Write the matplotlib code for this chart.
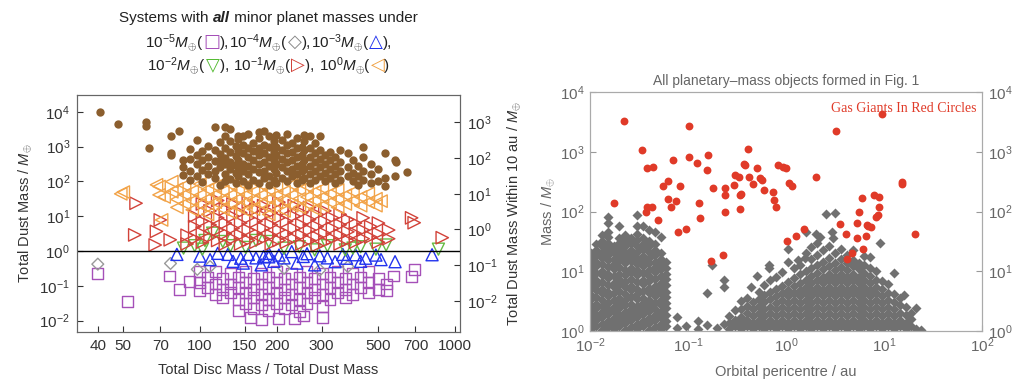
import matplotlib
matplotlib.use('Agg')
import matplotlib.pyplot as plt
from matplotlib.ticker import NullLocator, FixedLocator, FixedFormatter
import numpy as np

plt.rcParams['font.family'] = ['Liberation Sans', 'DejaVu Sans']
plt.rcParams['mathtext.fontset'] = 'custom'
plt.rcParams['mathtext.rm'] = 'Liberation Sans'
plt.rcParams['mathtext.it'] = 'Liberation Sans:italic'
plt.rcParams['mathtext.bf'] = 'Liberation Sans:bold'

# ---- data as log10 values: (log x, [log y, ...]) ----
# left panel: x = total disc mass / total dust mass, y = total dust mass
brown_cols = [
    (1.61, [3.99]), (1.68, [3.66]), (1.79, [3.70, 3.59]), (1.80, [2.95]),
    (1.885, [3.31, 2.81, 2.76]), (1.92, [3.45]), (1.935, [2.61, 2.42, 2.18]),
    (1.96, [2.92, 2.63, 2.31, 2.04]), (1.99, [3.19, 2.77, 2.49, 2.16]),
    (2.01, [2.86, 2.6, 2.33, 1.98]), (2.03, [3.02, 2.71, 2.44, 2.2]),
    (2.06, [3.55, 2.91, 2.57, 2.29, 2.09]), (2.08, [3.12, 2.79, 2.62, 2.4, 1.9]),
    (2.10, [3.57, 3.29, 2.95, 2.68, 2.49, 2.21, 2.0]), (2.12, [3.5, 3.16, 2.85, 2.55, 2.34, 2.06]),
    (2.14, [3.01, 2.74, 2.46, 2.25, 1.95]), (2.15, [3.31, 3.21, 2.9, 2.61, 2.4, 2.15]),
    (2.17, [3.31, 3.05, 2.8, 2.51, 2.3, 2.0]), (2.19, [3.36, 2.95, 2.7, 2.45, 2.21, 1.9]),
    (2.21, [3.1, 2.86, 2.6, 2.35, 2.05]), (2.23, [3.41, 3.25, 2.95, 2.75, 2.5, 2.26, 1.95]),
    (2.25, [3.44, 3.05, 2.81, 2.55, 2.3, 2.1]), (2.27, [3.3, 3.0, 2.7, 2.45, 2.15, 1.9]),
    (2.29, [3.15, 2.85, 2.6, 2.36, 2.05]), (2.30, [3.34, 3.0, 2.75, 2.5, 2.25, 1.95]),
    (2.32, [3.2, 2.9, 2.65, 2.4, 2.1]), (2.34, [3.35, 3.05, 2.8, 2.55, 2.3, 2.0]),
    (2.36, [3.1, 2.85, 2.6, 2.35, 2.15]), (2.38, [3.25, 2.95, 2.7, 2.45, 2.2, 1.95]),
    (2.40, [3.0, 2.75, 2.5, 2.3, 2.05]), (2.41, [3.34, 3.15, 2.9, 2.6, 2.35, 2.1]),
    (2.43, [3.29, 2.95, 2.7, 2.45, 2.2, 1.95]), (2.45, [3.1, 2.8, 2.55, 2.3, 2.05]),
    (2.47, [3.29, 2.9, 2.65, 2.4, 2.15]), (2.49, [2.75, 2.5, 2.25, 2.0]),
    (2.51, [2.85, 2.6, 2.35, 2.1]), (2.53, [2.7, 2.45, 2.2, 1.95]),
    (2.55, [2.9, 2.55, 2.3, 2.05]), (2.58, [2.8, 2.4, 2.15]), (2.60, [2.6, 2.25, 2.0]),
    (2.62, [2.45, 2.15, 1.9]), (2.64, [3.0, 2.7, 2.3, 2.05]), (2.67, [2.5, 2.2, 1.95]),
    (2.70, [2.35, 2.0]), (2.725, [2.8, 2.1, 1.87]), (2.765, [2.6, 2.15]), (2.77, [2.55]),
    (2.81, [2.27]),
]
orange_cols = [
    (1.69, [1.64]), (1.70, [1.69]), (1.83, [1.9]), (1.84, [1.61, 1.85]), (1.85, [0.89]),
    (1.86, [1.55]), (1.89, [1.99, 1.7]), (1.91, [1.78, 1.48, 1.25]), (1.94, [1.88, 1.62, 1.36]),
    (1.97, [1.72, 1.44, 1.18]), (2.00, [1.92, 1.6, 1.33]), (2.03, [1.77, 1.5, 1.24, 1.05]),
    (2.06, [1.86, 1.62, 1.4]), (2.09, [1.71, 1.46, 1.2]), (2.12, [1.9, 1.6, 1.35, 1.1]),
    (2.15, [1.76, 1.5, 1.26]), (2.18, [1.87, 1.61, 1.4, 1.15]), (2.21, [1.7, 1.45, 1.2]),
    (2.24, [1.9, 1.6, 1.35]), (2.27, [1.76, 1.5, 1.25, 1.05]), (2.30, [1.86, 1.6, 1.4]),
    (2.33, [1.7, 1.45, 1.15]), (2.36, [1.9, 1.6, 1.3]), (2.39, [1.75, 1.5, 1.25]),
    (2.42, [1.85, 1.55, 1.35]), (2.45, [1.7, 1.45, 1.2]), (2.48, [1.8, 1.55, 1.3]),
    (2.51, [1.65, 1.4]), (2.54, [1.75, 1.5, 1.25]), (2.57, [1.6, 1.35]), (2.60, [1.7, 1.45]),
    (2.63, [1.55, 1.3]), (2.66, [1.65, 1.4]), (2.69, [1.5, 1.3]), (2.71, [1.43]),
]
red_cols = [
    (1.745, [0.46]), (1.75, [1.37]), (1.825, [0.17]), (1.83, [0.56]), (1.845, [0.89]),
    (1.884, [0.32]), (1.95, [0.45, 0.2]), (1.98, [1.0, 0.7, 0.35]), (2.01, [1.35, 0.85, 0.5, 0.25]),
    (2.04, [1.15, 0.75, 0.4]), (2.07, [1.45, 0.95, 0.6, 0.3]), (2.10, [1.2, 0.8, 0.5, 0.2]),
    (2.13, [1.35, 1.0, 0.65, 0.35]), (2.16, [1.1, 0.8, 0.45, 0.2]), (2.19, [1.4, 0.95, 0.6, 0.3]),
    (2.22, [1.2, 0.85, 0.5, 0.25]), (2.25, [1.3, 1.0, 0.65, 0.35]), (2.28, [1.1, 0.75, 0.45, 0.2]),
    (2.31, [1.4, 0.95, 0.6, 0.3]), (2.34, [1.2, 0.85, 0.5, 0.25]), (2.37, [1.3, 1.0, 0.65, 0.35]),
    (2.40, [1.1, 0.75, 0.45, 0.2]), (2.43, [1.25, 0.9, 0.6, 0.3]), (2.46, [1.05, 0.7, 0.4, 0.15]),
    (2.49, [1.15, 0.85, 0.5, 0.25]), (2.52, [0.95, 0.65, 0.35]), (2.55, [1.05, 0.75, 0.45, 0.2]),
    (2.58, [0.9, 0.55, 0.3]), (2.61, [0.8, 0.5, 0.25]), (2.64, [0.95, 0.6, 0.35]),
    (2.67, [0.7, 0.4]), (2.70, [0.8, 0.5, 0.25]), (2.74, [0.6, 0.35]),
    (2.83, [0.95]), (2.84, [0.81]), (2.95, [0.38]),
]
green_cols = [
    (1.936, [0.08]), (1.98, [0.15]), (2.01, [0.05]), (2.02, [0.3]), (2.05, [0.51]),
    (2.09, [0.27]), (2.12, [0.15]), (2.18, [0.1]), (2.22, [0.3]), (2.27, [0.27]),
    (2.33, [0.08]), (2.39, [0.12]), (2.45, [0.03]), (2.50, [0.15]), (2.57, [0.03]),
    (2.60, [0.08]), (2.63, [0.12]), (2.69, [0.05]), (2.73, [0.17]), (2.935, [0.05]),
]
blue_cols = [
    (1.91, [-0.10]), (2.00, [-0.15]), (2.04, [-0.25]), (2.07, [-0.07]), (2.11, [-0.1]),
    (2.13, [-0.3]), (2.16, [-0.21]), (2.17, [-0.35]), (2.19, [-0.1]), (2.22, [-0.2]),
    (2.24, [-0.4]), (2.25, [-0.16]), (2.27, [-0.07, -0.17]), (2.29, [-0.3]), (2.31, [-0.12]),
    (2.33, [-0.2]), (2.36, [-0.02]), (2.38, [-0.35]), (2.405, [-0.16]), (2.42, [-0.08]),
    (2.45, [-0.4]), (2.47, [-0.14]), (2.50, [-0.2]), (2.53, [-0.31]), (2.56, [-0.1]),
    (2.575, [-0.21]), (2.61, [-0.11]), (2.63, [-0.3]), (2.65, [-0.21]), (2.69, [-0.12]),
    (2.71, [-0.25]), (2.765, [-0.31]), (2.91, [-0.11]),
]
grey_cols = [
    (1.60, [-0.38]), (1.885, [-0.36]), (1.99, [-0.53]), (2.04, [-0.45]),
    (2.33, [-0.5]), (2.47, [-0.55]), (2.58, [-0.45]),
]
purple_cols = [
    (1.60, [-0.64]), (1.715, [-1.46]), (1.88, [-0.72]), (1.92, [-1.1]), (1.96, [-0.88]),
    (2.00, [-0.6, -0.9, -1.15]), (2.03, [-0.75, -1.05]), (2.06, [-0.6, -0.95, -1.25]),
    (2.09, [-0.8, -1.1, -1.35]), (2.12, [-0.65, -0.95, -1.2]), (2.15, [-0.75, -1.05, -1.4, -1.7]),
    (2.18, [-0.6, -0.9, -1.2, -1.5]), (2.20, [-1.92]), (2.21, [-0.8, -1.1, -1.35, -1.65]),
    (2.24, [-0.65, -0.95, -1.25, -1.55, -1.98]), (2.27, [-0.75, -1.05, -1.4, -1.7]),
    (2.30, [-0.6, -0.9, -1.2, -1.5]), (2.31, [-1.93]), (2.33, [-0.8, -1.1, -1.35, -1.65]),
    (2.36, [-0.65, -0.95, -1.25, -1.55]), (2.37, [-1.93]), (2.39, [-0.75, -1.05, -1.4, -1.75]),
    (2.405, [-1.87]), (2.42, [-0.6, -0.9, -1.2, -1.5]), (2.45, [-0.8, -1.1, -1.35]),
    (2.48, [-0.65, -0.95, -1.25, -1.6, -1.92]), (2.51, [-0.75, -1.05, -1.4]),
    (2.54, [-0.6, -0.9, -1.2]), (2.57, [-0.8, -1.1, -1.35]), (2.60, [-0.65, -0.95, -1.25]),
    (2.63, [-0.75, -1.05]), (2.66, [-0.6, -0.9, -1.2]), (2.70, [-0.8, -1.1]),
    (2.73, [-0.95, -1.15]), (2.76, [-0.72]), (2.83, [-0.74]), (2.84, [-0.53]),
]

# right panel: x = orbital pericentre / au, y = mass / Mearth
giant_pts = [
    (-1.656, 3.51), (-0.993, 3.43), (0.51, 3.35), (0.98, 3.63), (-1.47, 3.03), (-0.39, 3.04),
    (-1.42, 2.72), (-1.36, 2.74), (-1.15, 2.86), (-0.99, 2.92), (-0.91, 2.82), (-0.80, 2.95),
    (-0.81, 2.69), (-1.26, 2.43), (-1.20, 2.51), (-1.08, 2.42), (-1.20, 2.21), (-1.12, 2.18),
    (-1.17, 2.08), (-1.42, 2.08), (-1.37, 2.08), (-1.43, 2.0), (-1.76, 2.15), (-1.31, 1.85),
    (-0.89, 2.14), (-0.88, 1.89), (-0.74, 2.39), (-0.62, 2.39), (-0.62, 2.28), (-0.53, 2.44),
    (-0.62, 2.0), (-0.47, 2.28), (-0.47, 2.04), (-0.52, 2.61), (-0.48, 2.58), (-0.42, 2.78),
    (-0.38, 2.58), (-0.34, 2.46), (-0.30, 2.72), (-0.27, 2.56), (-0.22, 2.36), (-0.13, 2.33),
    (-0.03, 2.75), (0.0, 2.72), (0.03, 2.47), (0.06, 2.43), (-0.12, 2.19), (-0.10, 2.08),
    (-0.08, 2.78), (-0.46, 2.29), (-0.25, 2.53), (-0.43, 2.79), (0.31, 2.57),
    (0.78, 2.22), (0.74, 2.0), (0.895, 2.28), (0.95, 2.08), (0.94, 1.94), (0.72, 1.80),
    (0.84, 1.76), (0.87, 1.74), (0.92, 1.91), (1.18, 2.50), (1.18, 2.46), (0.95, 2.25),
    (-1.10, 1.65), (-1.02, 1.71), (-0.77, 1.17), (-0.64, 1.27), (0.01, 1.51), (0.105, 1.59),
    (0.18, 1.70), (0.55, 1.79), (0.61, 1.62), (0.72, 1.55), (0.79, 1.37), (0.67, 1.30),
    (0.62, 1.20), (0.83, 1.77), (0.82, 1.59), (1.32, 1.62),
]
rocky_cols = [
    (-1.99, [0.03, 0.13, 0.22, 0.33, 0.42, 0.53, 0.61, 0.72, 0.83, 0.91, 1.02, 1.13, 1.22, 1.31]),
    (-1.94, [0.08, 0.18, 0.27, 0.38, 0.46, 0.57, 0.68, 0.77, 0.86, 0.97, 1.08, 1.16, 1.27, 1.36, 1.45]),
    (-1.88, [0.02, 0.12, 0.23, 0.31, 0.42, 0.52, 0.63, 0.71, 0.82, 0.93, 1.01, 1.12, 1.23, 1.32, 1.43, 1.51, 1.6]),
    (-1.82, [0.07, 0.17, 0.28, 0.36, 0.47, 0.58, 0.66, 0.77, 0.88, 0.96, 1.07, 1.18, 1.27, 1.37, 1.48, 1.57, 1.66, 1.8, 1.91]),
    (-1.76, [0.03, 0.12, 0.22, 0.33, 0.41, 0.52, 0.63, 0.73, 0.81, 0.92, 1.03, 1.12, 1.21, 1.33, 1.42]),
    (-1.70, [0.08, 0.17, 0.27, 0.38, 0.47, 0.56, 0.67, 0.78, 0.87, 0.96, 1.07, 1.18, 1.27, 1.38, 1.47, 1.56, 1.75]),
    (-1.64, [0.02, 0.13, 0.22, 0.32, 0.43, 0.52, 0.62, 0.73, 0.82, 0.93, 1.02, 1.13, 1.22, 1.33, 1.42, 1.52, 1.61]),
    (-1.58, [0.07, 0.18, 0.27, 0.37, 0.46, 0.57, 0.68, 0.76, 0.87, 0.98, 1.06, 1.17, 1.28, 1.36, 1.47, 1.56]),
    (-1.52, [0.03, 0.12, 0.23, 0.32, 0.42, 0.53, 0.62, 0.71, 0.82, 0.93, 1.02, 1.12, 1.23, 1.32, 1.43, 1.52, 1.62, 1.75, 1.94]),
    (-1.46, [0.08, 0.17, 0.28, 0.37, 0.47, 0.56, 0.67, 0.78, 0.86, 0.97, 1.08, 1.17, 1.26, 1.37, 1.46, 1.55, 1.75]),
    (-1.40, [0.02, 0.13, 0.22, 0.33, 0.42, 0.52, 0.63, 0.72, 0.83, 0.92, 1.02, 1.13, 1.22, 1.33, 1.42, 1.51, 1.69]),
    (-1.34, [0.07, 0.18, 0.27, 0.36, 0.47, 0.58, 0.67, 0.76, 0.87, 0.98, 1.07, 1.16, 1.27, 1.36, 1.45, 1.65]),
    (-1.28, [0.03, 0.12, 0.23, 0.32, 0.43, 0.52, 0.63, 0.72, 0.81, 0.92, 1.03, 1.12, 1.21, 1.3, 1.58]),
    (-1.22, [0.08, 0.17, 0.27, 0.38, 0.47, 0.57, 0.66, 0.77, 0.87, 0.96, 1.06, 1.16]),
    (-1.11, [0.23, 0.05]), (-1.02, [0.08]), (-0.90, [0.17, 0.03]), (-0.81, [0.63, 0.1]),
    (-0.76, [1.10]), (-0.70, [0.05]), (-0.63, [0.85, 0.74, 0.12]),
    (-0.58, [0.03, 0.14, 0.25]), (-0.52, [0.08, 0.19, 0.35]),
    (-0.46, [0.03, 0.13, 0.24, 0.36, 0.5]), (-0.40, [0.08, 0.19, 0.3, 0.42, 0.55]),
    (-0.36, [0.73]), (-0.34, [0.03, 0.14, 0.25, 0.37, 0.48]), (-0.30, [0.92]),
    (-0.28, [0.08, 0.19, 0.3, 0.42, 0.53, 0.66]), (-0.22, [0.03, 0.14, 0.25, 0.36, 0.48, 0.6, 0.77]),
    (-0.17, [1.10, 1.05]), (-0.16, [0.08, 0.19, 0.3, 0.41, 0.53, 0.65, 0.85]),
    (-0.10, [0.03, 0.14, 0.25, 0.36, 0.47, 0.59, 0.7, 0.9]),
    (-0.04, [0.08, 0.19, 0.3, 0.41, 0.52, 0.64, 0.76, 0.98]),
    (0.02, [0.03, 0.14, 0.25, 0.36, 0.47, 0.58, 0.69, 0.82, 1.16, 1.37]),
    (0.08, [0.08, 0.19, 0.3, 0.41, 0.52, 0.63, 0.75, 0.88, 1.05]), (0.12, [1.19]),
    (0.14, [0.03, 0.14, 0.25, 0.36, 0.47, 0.58, 0.69, 0.81, 0.95, 1.1]), (0.19, [1.22]),
    (0.20, [0.08, 0.19, 0.3, 0.41, 0.52, 0.63, 0.74, 0.86, 1.0, 1.3, 1.66]),
    (0.26, [0.03, 0.14, 0.25, 0.36, 0.47, 0.58, 0.69, 0.8, 0.92, 1.06, 1.2, 1.4]), (0.31, [1.62]),
    (0.32, [0.08, 0.19, 0.3, 0.41, 0.52, 0.63, 0.74, 0.85, 0.97, 1.1, 1.28, 1.47]), (0.35, [1.58]),
    (0.38, [0.03, 0.14, 0.25, 0.36, 0.47, 0.58, 0.69, 0.8, 0.91, 1.03, 1.16, 1.35]), (0.41, [1.96]),
    (0.44, [0.08, 0.19, 0.3, 0.41, 0.52, 0.63, 0.74, 0.85, 0.96, 1.08, 1.22, 1.42]),
    (0.47, [1.66]), (0.48, [1.55]),
    (0.50, [0.03, 0.14, 0.25, 0.36, 0.47, 0.58, 0.69, 0.8, 0.91, 1.02, 1.14, 1.3, 1.98]),
    (0.56, [0.08, 0.19, 0.3, 0.41, 0.52, 0.63, 0.74, 0.85, 0.96, 1.07, 1.2, 1.38]),
    (0.62, [0.03, 0.14, 0.25, 0.36, 0.47, 0.58, 0.69, 0.8, 0.91, 1.02, 1.13, 1.28]),
    (0.68, [0.08, 0.19, 0.3, 0.41, 0.52, 0.63, 0.74, 0.85, 0.96, 1.08, 1.18, 1.36]),
    (0.74, [0.03, 0.14, 0.25, 0.36, 0.47, 0.58, 0.69, 0.8, 0.91, 1.03, 1.14]),
    (0.80, [0.08, 0.19, 0.3, 0.41, 0.52, 0.63, 0.74, 0.85, 0.97, 1.1, 1.25]),
    (0.86, [0.03, 0.14, 0.25, 0.36, 0.47, 0.58, 0.69, 0.8, 0.92, 1.05, 1.24]),
    (0.92, [0.08, 0.19, 0.3, 0.41, 0.52, 0.63, 0.74, 0.86, 1.0]), (0.96, [1.47]),
    (0.98, [0.03, 0.14, 0.25, 0.36, 0.47, 0.58, 0.7, 0.84]),
    (1.04, [0.08, 0.19, 0.3, 0.41, 0.52, 0.64, 0.78]),
    (1.10, [0.03, 0.14, 0.25, 0.36, 0.48, 0.62, 0.97]),
    (1.16, [0.08, 0.19, 0.3, 0.43, 0.55]), (1.20, [0.6]),
    (1.22, [0.03, 0.14, 0.26, 0.4]), (1.28, [0.08, 0.2, 0.3]), (1.33, [0.38, 0.03]), (1.38, [0.02]),
]

disc_ticks = [40, 50, 70, 100, 150, 200, 300, 500, 700, 1000]


def expand(cols):
    xs, ys = [], []
    for lx, lys in cols:
        for ly in lys:
            xs.append(lx)
            ys.append(ly)
    return 10 ** np.array(xs), 10 ** np.array(ys)


fig = plt.figure(figsize=(10.24, 3.92), dpi=100)

# ---------------- left panel ----------------
ax = fig.add_axes([77 / 1024, 1 - 332 / 392, 383 / 1024, 237 / 392])
dark = '#333333'

x, y = expand(purple_cols)
ax.scatter(x, y, marker='s', s=62, facecolor='none', edgecolor='#a550b8', linewidth=1.0, zorder=2)
x, y = expand(grey_cols)
ax.scatter(x, y, marker='D', s=36, facecolor='none', edgecolor='#999999', linewidth=1.0, zorder=2)
x, y = expand(blue_cols)
ax.scatter(x, y, marker='^', s=75, facecolor='none', edgecolor='#2233ee', linewidth=1.0, zorder=3)
x, y = expand(green_cols)
ax.scatter(x, y, marker='v', s=75, facecolor='none', edgecolor='#66bb44', linewidth=1.0, zorder=3)
x, y = expand(red_cols)
ax.scatter(x, y, marker='>', s=80, facecolor='none', edgecolor='#d2433a', linewidth=1.0, zorder=3)
x, y = expand(orange_cols)
ax.scatter(x, y, marker='<', s=80, facecolor='none', edgecolor='#f2a348', linewidth=1.0, zorder=4)
x, y = expand(brown_cols)
ax.scatter(x, y, marker='o', s=36, color='#8b5e2e', linewidth=0, zorder=5)

ax.axhline(1.0, color='black', linewidth=1.0, zorder=6)

ax.set_xscale('log')
ax.set_yscale('log')
ax.set_xlim(33, 1046)
ax.set_ylim(10 ** -2.33, 10 ** 4.48)
ax.xaxis.set_major_locator(FixedLocator(disc_ticks))
ax.xaxis.set_major_formatter(FixedFormatter([str(v) for v in disc_ticks]))
ax.xaxis.set_minor_locator(NullLocator())
ax.yaxis.set_major_locator(FixedLocator([1e-2, 1e-1, 1e0, 1e1, 1e2, 1e3, 1e4]))
ax.yaxis.set_minor_locator(NullLocator())
ax.tick_params(direction='in', length=4, labelsize=11, colors=dark, labelcolor=dark, pad=5)
for sp in ax.spines.values():
    sp.set_color('#666666')
ax.set_xlabel('Total Disc Mass / Total Dust Mass', fontsize=10.5, color=dark, labelpad=7)
ax.set_ylabel(r'Total Dust Mass / $M_{\oplus}$', fontsize=10.5, color=dark, labelpad=4)

ax2 = ax.twinx()
ax2.set_yscale('log')
ax2.set_ylim(10 ** -2.87, 10 ** 3.765)
ax2.yaxis.set_major_locator(FixedLocator([1e-2, 1e-1, 1e0, 1e1, 1e2, 1e3]))
ax2.yaxis.set_minor_locator(NullLocator())
ax2.tick_params(direction='in', length=4, labelsize=11, colors=dark, labelcolor=dark, pad=5)
for sp in ax2.spines.values():
    sp.set_color('#666666')
ax2.set_ylabel(r'Total Dust Mass Within 10 au / $M_{\oplus}$', fontsize=10.5, color=dark, labelpad=6)

# ---------------- right panel ----------------
grey = '#666666'
bx = fig.add_axes([590 / 1024, 1 - 331 / 392, 392 / 1024, 239 / 392])
x, y = expand(rocky_cols)
bx.scatter(x, y, marker='D', s=26, color='#707070', linewidth=0, zorder=2)
gx = 10 ** np.array([p[0] for p in giant_pts])
gy = 10 ** np.array([p[1] for p in giant_pts])
bx.scatter(gx, gy, marker='o', s=32, color='#e03a28', linewidth=0, zorder=3)

bx.set_xscale('log')
bx.set_yscale('log')
bx.set_xlim(1e-2, 1e2)
bx.set_ylim(1, 1e4)
bx.xaxis.set_minor_locator(NullLocator())
bx.yaxis.set_minor_locator(NullLocator())
bx.tick_params(direction='in', length=4, labelsize=11, colors='#999999', labelcolor=grey, pad=4)
for sp in bx.spines.values():
    sp.set_color('#aaaaaa')
bx.set_xlabel('Orbital pericentre / au', fontsize=10.5, color=grey, labelpad=7)
bx.set_ylabel(r'Mass / $M_{\oplus}$', fontsize=10.5, color=grey, labelpad=2)
bx.set_title('All planetary\u2013mass objects formed in Fig. 1', fontsize=10, color=grey, pad=5)
bx.text(0.985, 0.93, 'Gas Giants In Red Circles', transform=bx.transAxes, ha='right', va='center',
        fontsize=10, color='#e03a28', family='Liberation Serif')

bx2 = bx.twinx()
bx2.set_yscale('log')
bx2.set_ylim(1, 1e4)
bx2.yaxis.set_minor_locator(NullLocator())
bx2.tick_params(direction='in', length=4, labelsize=11, colors='#999999', labelcolor=grey, pad=4)
for sp in bx2.spines.values():
    sp.set_color('#aaaaaa')

# ---------------- multi-colour title over the left panel ----------------
purple_c, grey_c, blue_c = '#a550b8', '#888888', '#2233ee'
green_c, red_c, orange_c = '#55bb33', '#d2433a', '#f0a040'
sym = dict(family='DejaVu Sans', fontsize=13)
title_lines = [
    (22, [('Systems with ', {}), ('all', dict(weight='bold', style='italic')),
          (' minor planet masses under', {})]),
    (47, [(r'$10^{-5}M_{\oplus}$(', {}), ('\u25a1', dict(color=purple_c, **sym)), ('),', {}),
          (r'$10^{-4}M_{\oplus}$(', {}), ('\u25c7', dict(color=grey_c, **sym)), ('),', {}),
          (r'$10^{-3}M_{\oplus}$(', {}), ('\u25b3', dict(color=blue_c, **sym)), ('),', {})]),
    (70, [(r'$10^{-2}M_{\oplus}$(', {}), ('\u25bd', dict(color=green_c, **sym)), ('), ', {}),
          (r'$10^{-1}M_{\oplus}$(', {}), ('\u25b7', dict(color=red_c, **sym)), ('), ', {}),
          (r'$10^{0}M_{\oplus}$(', {}), ('\u25c1', dict(color=orange_c, **sym)), (')', {})]),
]
renderer = fig.canvas.get_renderer()
centre = (77 + 460) / 2
for ypix, pieces in title_lines:
    texts = []
    for s, kw in pieces:
        kw = dict(kw)
        kw.setdefault('color', '#222222')
        kw.setdefault('fontsize', 11)
        t = fig.text(0, 1 - ypix / 392, s, ha='left', va='baseline', **kw)
        texts.append(t)
    widths = [t.get_window_extent(renderer).width for t in texts]
    xpix = centre - sum(widths) / 2
    for t, w in zip(texts, widths):
        t.set_x(xpix / 1024)
        xpix += w

fig.savefig('out.png', dpi=100)
